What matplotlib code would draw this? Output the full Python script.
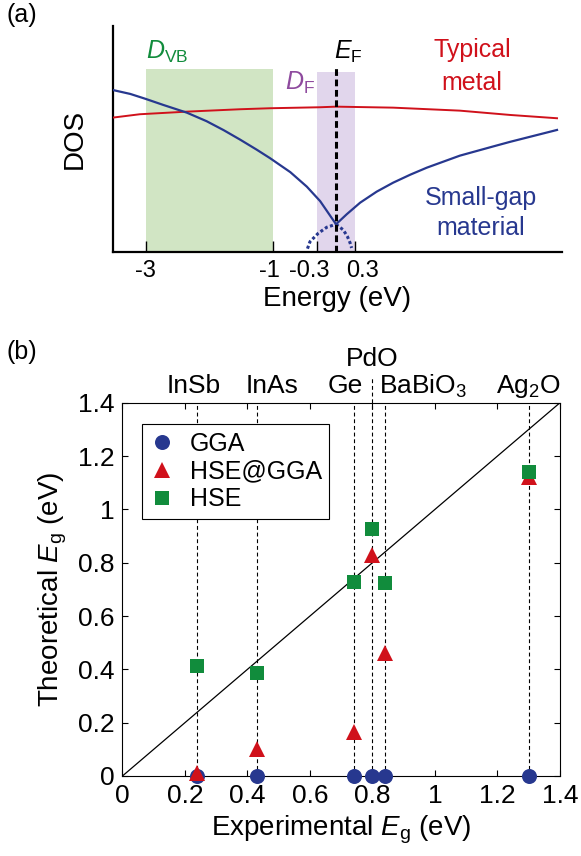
import numpy as np
import matplotlib
matplotlib.use('Agg')
from matplotlib import pyplot as plt
from matplotlib.transforms import blended_transform_factory, ScaledTranslation

plt.rcParams['font.family'] = 'Liberation Sans'
plt.rcParams['mathtext.fontset'] = 'custom'
plt.rcParams['mathtext.rm'] = 'Liberation Sans'
plt.rcParams['mathtext.it'] = 'Liberation Sans:italic'
plt.rcParams['mathtext.bf'] = 'Liberation Sans:bold'
plt.rcParams['axes.unicode_minus'] = False

# ---- panel (a): schematic DOS (energy in eV, DOS in arbitrary units)
metal_e = [-3.52, -3.09, -2.35, -1.51, -1.04, -0.25, 0.0, 0.9, 1.95, 2.74, 3.48]
metal_dos = [134, 137.4, 140, 142.4, 143.4, 144.4, 145, 144, 141, 136.7, 133.4]

gap_vb_e = [-3.52, -3.24, -3.01, -2.72, -2.35, -2.04, -1.77, -1.51, -1.25, -1.04,
            -0.72, -0.46, -0.25, 0.0]
gap_vb_dos = [161.7, 157.7, 153, 146.7, 139, 130.5, 121.5, 112, 102, 93.5,
              79.5, 65, 50.5, 27.4]
gap_cb_e = [0.0, 0.17, 0.38, 0.64, 0.90, 1.17, 1.43, 1.95, 2.48, 2.74, 3.48]
gap_cb_dos = [27.4, 37.5, 49, 60, 69, 77, 84, 96, 105.3, 109.8, 121.7]

tail_left_e = [-0.45, -0.41, -0.28, -0.146, 0.0]
tail_left_dos = [3, 10, 18.4, 24.4, 27.4]
tail_right_e = [0.0, 0.115, 0.18, 0.22, 0.245]
tail_right_dos = [27.4, 21.7, 15, 9, 3.7]

vb_window = [-3, -1]
ef_window = [-0.3, 0.3]
vb_box_top = 182.7
ef_box_top = 180
ef_line_top = 183.4
a_ticks = [-3, -1, -0.3, 0.3]
a_ticklabels = ['-3', '-1', '-0.3', '0.3']

# ---- panel (b): band gaps
materials = ['InSb', 'InAs', 'Ge', 'PdO', r'BaBiO$_3$', r'Ag$_2$O']
eg_exp = [0.24, 0.43, 0.74, 0.80, 0.84, 1.30]
eg_gga = [0, 0, 0, 0, 0, 0]
eg_hse_gga = [0.012, 0.102, 0.166, 0.828, 0.462, 1.12]
eg_hse = [0.414, 0.385, 0.727, 0.927, 0.723, 1.14]
b_ticks = [0, 0.2, 0.4, 0.6, 0.8, 1.0, 1.2, 1.4]
b_ticklabels = ['0', '0.2', '0.4', '0.6', '0.8', '1', '1.2', '1.4']

blue = '#27388f'
red = '#d0111b'
green = '#118c3c'
purple = '#8e4a9e'

fig = plt.figure(figsize=(5.81, 8.56), dpi=100)

# ------------------------------------------------------------ (a)
ax = fig.add_axes([0.194, 0.706, 0.7728, 0.2637])
ax.fill_between(vb_window, 0, vb_box_top, color='#d1e5c4', lw=0, zorder=1)
ax.fill_between(ef_window, 0, ef_box_top, color='#e1d6ec', lw=0, zorder=1)
ax.plot(metal_e, metal_dos, color=red, lw=1.4, zorder=3)
ax.plot(gap_vb_e, gap_vb_dos, color=blue, lw=1.6, zorder=3)
ax.plot(gap_cb_e, gap_cb_dos, color=blue, lw=1.6, zorder=3)
ax.plot(tail_left_e, tail_left_dos, color=blue, lw=2.2, ls=(0, (1, 0.8)), zorder=3)
ax.plot(tail_right_e, tail_right_dos, color=blue, lw=2.2, ls=(0, (1, 0.8)), zorder=3)
ax.plot([0, 0], [0, ef_line_top], color='k', lw=2.2, ls=(0, (2.2, 1.2)), zorder=4)

ax.set_xlim(-3.517, 3.554)
ax.set_ylim(0, 225.7)
for s in ['top', 'right']:
    ax.spines[s].set_visible(False)
for s in ['left', 'bottom']:
    ax.spines[s].set_linewidth(1.6)
ax.set_yticks([])
ax.set_xticks(a_ticks)
ax.set_xticklabels(a_ticklabels)
ax.tick_params(axis='x', direction='in', length=8, width=1, pad=6, labelsize=17)
# spread the crowded labels a little, as in the original
for lab, dx in zip(ax.get_xticklabels(), [0, -2.5, -5.5, 5.5]):
    lab.set_transform(lab.get_transform() + ScaledTranslation(dx / 72, 0, fig.dpi_scale_trans))
ax.set_xlabel('Energy (eV)', fontsize=20, labelpad=3)
ax.set_ylabel('DOS', fontsize=20, labelpad=18)

ax.text(-2.99, 192.4, r'$D_{\mathrm{VB}}$', color=green, fontsize=18, va='baseline')
ax.text(-0.80, 161.7, r'$D_{\mathrm{F}}$', color=purple, fontsize=18, va='baseline')
ax.text(-0.03, 192.4, r'$E_{\mathrm{F}}$', color='k', fontsize=18, va='baseline')
ax.text(2.14, 194.4, 'Typical', color=red, fontsize=18, ha='center', va='baseline')
ax.text(2.14, 161.7, 'metal', color=red, fontsize=18, ha='center', va='baseline')
ax.text(2.28, 46.7, 'Small-gap', color=blue, fontsize=18, ha='center', va='baseline')
ax.text(2.28, 16.7, 'material', color=blue, fontsize=18, ha='center', va='baseline')

fig.text(7 / 581, 1 - 15 / 856, '(a)', fontsize=18, va='center', ha='left')

# ------------------------------------------------------------ (b)
ax = fig.add_axes([0.2108, 0.0935, 0.753, 0.436])
trans = blended_transform_factory(ax.transData, ax.transAxes)

ax.plot([0, 1.4], [0, 1.4], color='k', lw=0.9, zorder=2)
for i, x in enumerate(eg_exp):
    top = 1.07 if materials[i] == 'PdO' else 1.0
    ax.plot([x, x], [0, top], transform=trans, color='k', lw=0.8,
            ls=(0, (3.5, 2.5)), clip_on=False, zorder=1)

ax.plot(eg_exp, eg_gga, 'o', color=blue, ms=10.8, mew=0, clip_on=False,
        zorder=5, label='GGA')
ax.plot(eg_exp, eg_hse_gga, '^', color=red, ms=11, mew=0, clip_on=False,
        zorder=6, label='HSE@GGA')
ax.plot(eg_exp, eg_hse, 's', color=green, ms=9.6, mew=0, clip_on=False,
        zorder=7, label='HSE')

label_dx = [-3, 10.7, -6.3, 0, -4, 0]
label_dy = [6.8, 6.8, 6.8, 26.4, 6.8, 6.8]
label_ha = ['center', 'center', 'center', 'center', 'left', 'center']
for i, name in enumerate(materials):
    ax.annotate(name, xy=(eg_exp[i], 1), xycoords=trans,
                xytext=(label_dx[i], label_dy[i]), textcoords='offset points',
                ha=label_ha[i], va='baseline', fontsize=19)

ax.set_xlim(0, 1.4)
ax.set_ylim(0, 1.4)
ax.set_xticks(b_ticks)
ax.set_xticklabels(b_ticklabels)
ax.set_yticks(b_ticks)
ax.set_yticklabels(b_ticklabels)
ax.tick_params(direction='in', top=True, right=True, length=4, width=0.8,
               labelsize=19, pad=6)
for s in ax.spines.values():
    s.set_linewidth(0.8)
ax.set_xlabel(r'Experimental $E_\mathrm{g}$ (eV)', fontsize=20, labelpad=4)
ax.set_ylabel(r'Theoretical $E_\mathrm{g}$ (eV)', fontsize=20, labelpad=6)

leg = ax.legend(loc='upper left', bbox_to_anchor=(0.045, 0.942), borderaxespad=0,
                fontsize=18, numpoints=1, handlelength=1.0, handletextpad=0.6,
                labelspacing=0.15, borderpad=0.3, fancybox=False, framealpha=1)
leg.get_frame().set_edgecolor('k')
leg.get_frame().set_linewidth(0.8)

fig.text(7 / 581, 1 - 352 / 856, '(b)', fontsize=18, va='center', ha='left')

fig.savefig('out.png', dpi=100)
